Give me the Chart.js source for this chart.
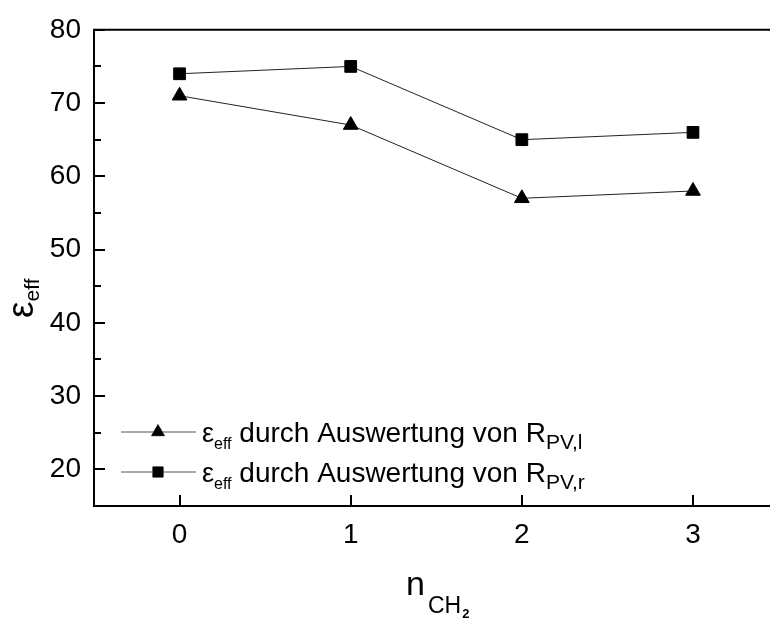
<!DOCTYPE html>
<html>
<head>
<meta charset="utf-8">
<script src="https://cdn.jsdelivr.net/npm/chart.js@4/dist/chart.umd.min.js"></script>
<style>
    body { margin: 0; background: #fff; overflow: hidden; }
    #wrap { width: 770px; height: 620px; position: relative; }
</style>
</head>
<body>
<div id="wrap"><canvas id="eff"></canvas></div>
<script>
// n_CH2 values and epsilon_eff from both evaluations
const n_ch2 = [0, 1, 2, 3]
const eff_left = [71, 67, 57, 58]    // triangles, R_PV,l
const eff_right = [74, 75, 65, 66]   // squares, R_PV,r

const y_min = 15
const y_max = 80
const x_min = -0.5
const x_max = 3.45

const font_name = '"Liberation Sans", Arial, sans-serif'

function points(ys) {
    return n_ch2.map((x, i) => ({x: x, y: ys[i]}))
}

// text with subscript parts: [text, size, shift, gap before, weight]
function drawParts(ctx, parts, x, y) {
    let cx = x
    parts.forEach(p => {
        cx += p[3] || 0
        ctx.font = (p[4] || '') + ' ' + p[1] + 'px ' + font_name
        ctx.fillText(p[0], cx, y + p[2])
        cx += ctx.measureText(p[0]).width
    })
    return cx
}

const frame_plugin = {
    id: 'frame',
    afterDraw(chart) {
        const ctx = chart.ctx
        const area = chart.chartArea
        const xs = chart.scales.x
        const ys = chart.scales.y
        ctx.save()
        ctx.strokeStyle = '#000'
        ctx.lineWidth = 2
        ctx.beginPath()
        ctx.moveTo(area.right + 5, area.top)
        ctx.lineTo(area.left, area.top)
        ctx.lineTo(area.left, area.bottom)
        ctx.lineTo(area.right + 5, area.bottom)
        ctx.stroke()

        // inward ticks, minor ones every 5
        ctx.beginPath()
        ys.ticks.forEach(t => {
            const py = Math.round(ys.getPixelForValue(t.value))
            const len = t.value % 10 === 0 ? 11 : 7
            ctx.moveTo(area.left, py)
            ctx.lineTo(area.left + len, py)
        })
        xs.ticks.forEach(t => {
            const px = Math.round(xs.getPixelForValue(t.value))
            ctx.moveTo(px, area.bottom)
            ctx.lineTo(px, area.bottom - 11)
        })
        ctx.stroke()

        ctx.fillStyle = '#000'
        ctx.textBaseline = 'alphabetic'
        ctx.textAlign = 'left'

        // y title, rotated
        ctx.save()
        ctx.translate(33, 318)
        ctx.rotate(-Math.PI / 2)
        drawParts(ctx, [['ε', 37, 0], ['eff', 21, 6]], 0, 0)
        ctx.restore()

        // x title
        drawParts(ctx, [['n', 34, 0], ['CH', 23, 18, 3], ['2', 13, 23, 1, 'bold']], 406, 595)

        // legend inside the plot
        const rows = [
            {ds: chart.data.datasets[0], y: 432, sub: 'PV,l'},
            {ds: chart.data.datasets[1], y: 472, sub: 'PV,r'}
        ]
        rows.forEach(r => {
            ctx.strokeStyle = '#555'
            ctx.lineWidth = 1
            ctx.beginPath()
            ctx.moveTo(121, r.y)
            ctx.lineTo(196, r.y)
            ctx.stroke()
            Chart.helpers.drawPoint(ctx, {
                pointStyle: r.ds.pointStyle,
                radius: r.ds.pointRadius * 0.88,
                rotation: 0,
                borderWidth: 1
            }, 158, r.y)
            ctx.fillStyle = '#000'
            ctx.fill()
            drawParts(ctx, [['ε', 27, 0], ['eff', 16, 7], [' durch Auswertung von R', 28, 0], [r.sub, 21, 7]], 202, r.y + 10)
        })
        ctx.restore()
    }
}

new Chart(document.getElementById('eff'), {
    type: 'line',
    data: {
        datasets: [{
            label: 'eff durch Auswertung von R_PV,l',
            data: points(eff_left),
            pointStyle: 'triangle',
            pointRadius: 8.5,
            borderColor: '#222',
            borderWidth: 1,
            pointBackgroundColor: '#000',
            pointBorderColor: '#000',
            pointBorderWidth: 1,
            tension: 0
        }, {
            label: 'eff durch Auswertung von R_PV,r',
            data: points(eff_right),
            pointStyle: 'rect',
            pointRadius: 8.3,
            borderColor: '#222',
            borderWidth: 1,
            pointBackgroundColor: '#000',
            pointBorderColor: '#000',
            pointBorderWidth: 1,
            tension: 0
        }]
    },
    options: {
        responsive: true,
        maintainAspectRatio: false,
        animation: false,
        layout: { autoPadding: false, padding: { top: 28, left: 0, right: 0, bottom: 0 } },
        plugins: {
            legend: { display: false },
            tooltip: { enabled: false }
        },
        scales: {
            x: {
                type: 'linear',
                min: x_min,
                max: x_max,
                grid: { display: false, drawTicks: false },
                border: { display: false },
                ticks: {
                    stepSize: 1,
                    includeBounds: false,
                    padding: 12,
                    color: '#000',
                    font: { family: font_name, size: 28 },
                    callback: v => Number.isInteger(v) ? v : ''
                },
                afterFit: scale => { scale.height = 114 }
            },
            y: {
                min: y_min,
                max: y_max,
                grid: { display: false, drawTicks: false },
                border: { display: false },
                ticks: {
                    stepSize: 5,
                    includeBounds: false,
                    padding: 13,
                    color: '#000',
                    font: { family: font_name, size: 28 },
                    callback: v => v % 10 === 0 ? v : ''
                },
                afterFit: scale => { scale.width = 94 }
            }
        }
    },
    plugins: [frame_plugin]
});
</script>
</body>
</html>
